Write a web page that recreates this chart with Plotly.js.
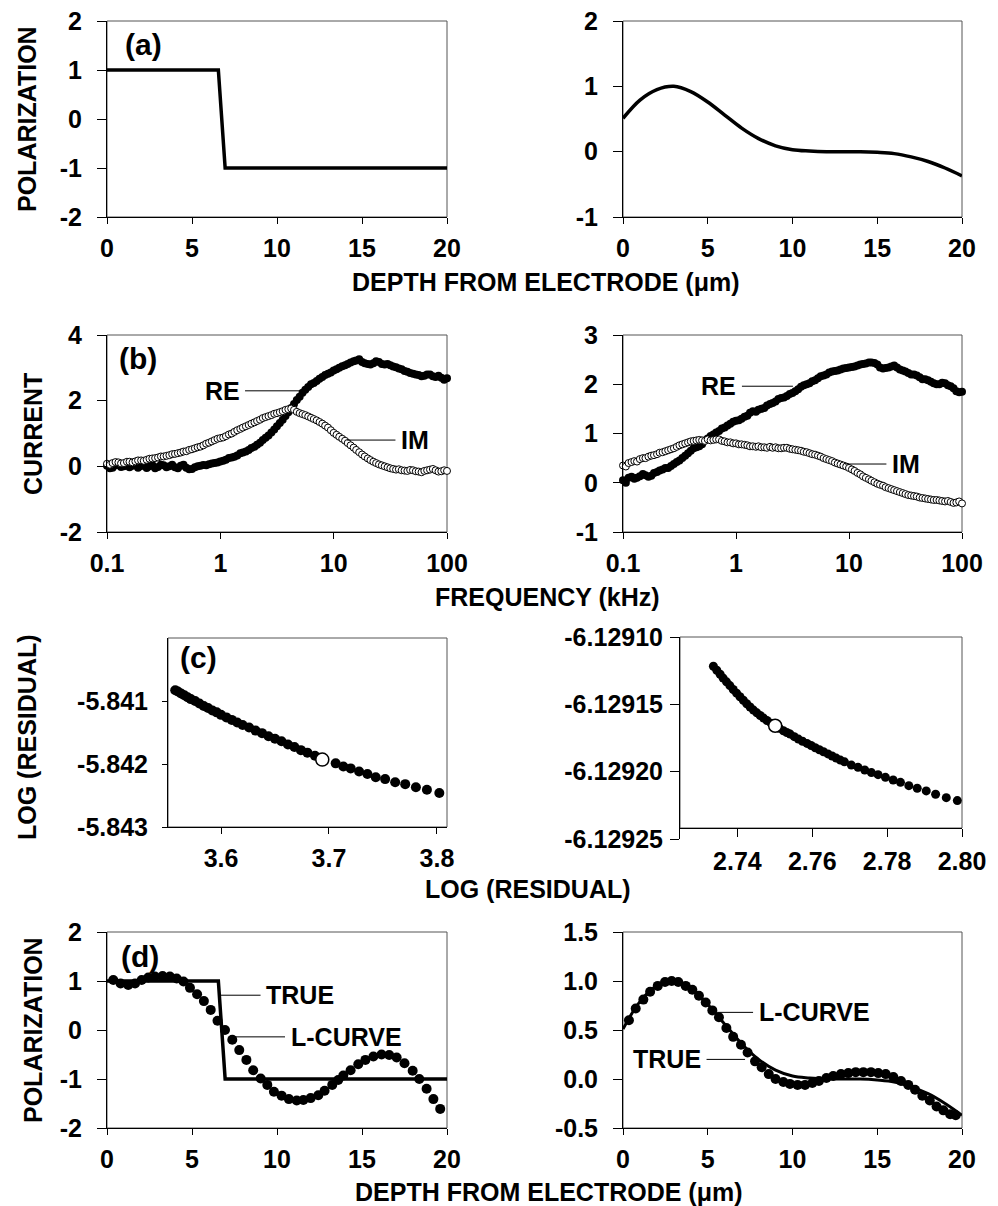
<!DOCTYPE html>
<html>
<head>
<meta charset="utf-8">
<script src="https://cdn.plot.ly/plotly-3.0.1.min.js"></script>
<style>html,body{margin:0;padding:0;background:#fff;}#chart{width:998px;height:1206px;}</style>
</head>
<body>
<div id="chart"></div>
<script>
// ---------- DATA ----------
// (a) / (d): true polarization profiles
const STEP_X = [0, 6.55, 6.95, 20];
const STEP_Y = [1, 1, -1, -1];
const SMOOTH_X = [0,1,2,3,4,5,6,7,8,9,10,11,12,13,14,15,16,17,18,19,20];
const SMOOTH_Y = [0.51,0.79,0.95,1.0,0.92,0.76,0.56,0.36,0.20,0.09,0.03,0.01,0.0,0.0,0.0,-0.01,-0.03,-0.08,-0.15,-0.25,-0.37];

// (b): currents vs frequency (kHz)
const FREQ = [0.1,0.106,0.112,0.119,0.126,0.133,0.141,0.15,0.158,0.168,0.178,0.188,0.2,0.211,0.224,0.237,0.251,0.266,0.282,0.299,0.316,0.335,0.355,0.376,0.398,0.422,0.447,0.473,0.501,0.531,0.562,0.596,0.631,0.668,0.708,0.75,0.794,0.841,0.891,0.944,
  1,1.06,1.12,1.19,1.26,1.33,1.41,1.5,1.58,1.68,1.78,1.88,2,2.11,2.24,2.37,2.51,2.66,2.82,2.99,3.16,3.35,3.55,3.76,3.98,4.22,4.47,4.73,5.01,5.31,5.62,5.96,6.31,6.68,7.08,7.5,7.94,8.41,8.91,9.44,
  10,10.6,11.2,11.9,12.6,13.3,14.1,15,15.8,16.8,17.8,18.8,20,21.1,22.4,23.7,25.1,26.6,28.2,29.9,31.6,33.5,35.5,37.6,39.8,42.2,44.7,47.3,50.1,53.1,56.2,59.6,63.1,66.8,70.8,75,79.4,84.1,89.1,94.4,100];
const RE_LEFT = [0.02,-0.06,-0.04,0.03,0.05,-0.02,0.0,0.07,-0.03,0.02,0.06,-0.04,0.01,0.04,-0.05,0.0,0.04,-0.06,-0.02,0.05,0.03,
  -0.03,0.0,0.05,-0.03,-0.06,0.02,0.05,-0.04,-0.09,-0.08,-0.03,0.0,0.02,0.04,0.03,0.06,0.09,0.1,0.12,0.15,
  0.17,0.2,0.25,0.27,0.29,0.33,0.4,0.42,0.45,0.5,0.56,0.6,0.66,0.72,0.8,0.87,0.94,1.03,1.12,1.22,
  1.32,1.42,1.53,1.65,1.78,1.9,2.02,2.12,2.24,2.33,2.42,2.5,2.54,2.6,2.67,2.72,2.78,2.82,2.86,2.92,
  2.96,3.0,3.05,3.08,3.12,3.16,3.2,3.22,3.26,3.18,3.14,3.12,3.1,3.14,3.2,3.18,3.12,3.1,3.12,3.08,
  3.04,3.02,2.98,2.96,2.9,2.88,2.84,2.82,2.8,2.78,2.74,2.76,2.8,2.8,2.74,2.72,2.76,2.7,2.64,2.68];
const IM_LEFT = [0.08,0.05,0.1,0.13,0.12,0.09,0.1,0.14,0.14,0.12,0.15,0.18,0.18,0.17,0.2,0.23,0.24,0.25,0.27,0.3,0.3,
  0.32,0.34,0.37,0.38,0.4,0.42,0.45,0.46,0.5,0.52,0.55,0.58,0.6,0.64,0.69,0.72,0.76,0.8,0.84,0.86,
  0.88,0.92,0.97,1.0,1.05,1.1,1.14,1.18,1.22,1.26,1.3,1.34,1.38,1.42,1.47,1.5,1.53,1.56,1.6,1.62,
  1.65,1.68,1.72,1.74,1.76,1.72,1.66,1.62,1.59,1.56,1.52,1.48,1.44,1.4,1.35,1.3,1.24,1.18,1.1,1.02,
  0.96,0.9,0.84,0.78,0.71,0.64,0.57,0.5,0.43,0.36,0.3,0.24,0.19,0.14,0.1,0.06,0.03,0.0,-0.03,-0.06,
  -0.08,-0.1,-0.09,-0.12,-0.13,-0.14,-0.11,-0.12,-0.15,-0.16,-0.18,-0.14,-0.12,-0.1,-0.08,-0.12,-0.16,-0.15,-0.12,-0.14];
const RE_RIGHT = [0.05,0.0,0.1,0.12,0.08,0.1,0.13,0.18,0.15,0.12,0.14,0.2,0.22,0.25,0.27,0.3,0.3,0.34,0.38,0.42,0.45,
  0.5,0.55,0.6,0.65,0.7,0.72,0.74,0.78,0.86,0.9,0.95,0.98,1.02,1.05,1.1,1.12,1.16,1.2,1.24,1.26,
  1.27,1.3,1.34,1.36,1.42,1.45,1.44,1.48,1.5,1.52,1.57,1.6,1.62,1.65,1.7,1.72,1.73,1.76,1.8,1.82,
  1.86,1.9,1.95,1.98,2.0,2.02,2.06,2.08,2.12,2.16,2.18,2.2,2.24,2.26,2.27,2.28,2.3,2.32,2.33,2.34,
  2.35,2.36,2.38,2.4,2.41,2.42,2.44,2.44,2.43,2.4,2.34,2.32,2.33,2.34,2.36,2.38,2.34,2.3,2.28,2.26,
  2.23,2.2,2.2,2.18,2.14,2.1,2.1,2.08,2.05,2.02,2.0,2.0,2.03,2.02,1.98,1.96,1.92,1.86,1.84,1.85];
const IM_RIGHT = [0.35,0.33,0.4,0.42,0.44,0.43,0.48,0.5,0.5,0.53,0.55,0.56,0.58,0.61,0.62,0.64,0.66,0.68,0.7,0.73,0.76,
  0.78,0.8,0.82,0.84,0.85,0.86,0.87,0.86,0.85,0.88,0.86,0.87,0.88,0.88,0.85,0.84,0.82,0.82,0.8,0.8,
  0.78,0.78,0.77,0.76,0.74,0.74,0.73,0.74,0.72,0.72,0.71,0.73,0.71,0.72,0.7,0.7,0.71,0.71,0.69,0.68,
  0.67,0.66,0.65,0.63,0.62,0.6,0.58,0.57,0.55,0.53,0.5,0.48,0.46,0.44,0.41,0.39,0.37,0.35,0.33,0.3,
  0.27,0.24,0.2,0.17,0.13,0.1,0.07,0.04,0.01,-0.02,-0.04,-0.06,-0.09,-0.11,-0.13,-0.15,-0.17,-0.19,-0.21,-0.23,
  -0.25,-0.26,-0.27,-0.28,-0.3,-0.31,-0.32,-0.33,-0.34,-0.35,-0.35,-0.36,-0.37,-0.38,-0.37,-0.39,-0.41,-0.4,-0.38,-0.42];

// (c): L-curves
const LC_LEFT_X = [3.5576,3.560,3.563,3.566,3.569,3.572,3.576,3.580,3.584,3.588,3.592,3.596,3.600,3.605,3.610,3.615,3.620,3.626,3.632,3.638,3.644,3.650,3.656,3.662,3.668,3.674,3.680,3.687,3.7062,3.7133,3.7201,3.7279,3.7356,3.7433,3.752,3.7613,3.7706,3.7805,3.7907,3.8022];
const LC_LEFT_Y = [-5.84083,-5.84085,-5.84088,-5.84091,-5.84094,-5.84097,-5.84100,-5.84104,-5.84108,-5.84111,-5.84115,-5.84118,-5.84122,-5.84126,-5.84130,-5.84134,-5.84138,-5.84142,-5.84147,-5.84151,-5.84156,-5.84160,-5.84164,-5.84169,-5.84173,-5.84178,-5.84182,-5.84187,-5.84199,-5.84204,-5.84207,-5.84212,-5.84216,-5.84221,-5.84224,-5.84229,-5.84232,-5.84237,-5.84241,-5.84246];
const LC_LEFT_PICK_X = [3.6938];
const LC_LEFT_PICK_Y = [-5.84193];
const LC_RIGHT_X = [2.7336,2.7345,2.7354,2.7362,2.7371,2.7380,2.7389,2.7398,2.7407,2.7416,2.7425,2.7434,2.7443,2.7452,2.7461,2.7470,2.7479,2.7490,2.7512,2.7523,2.7532,2.7541,2.7552,2.7563,2.7574,2.7586,2.7597,2.7608,2.7619,2.7630,2.7642,2.7653,2.7664,2.7675,2.7686,2.77045,2.77223,2.77402,2.77580,2.77759,2.77955,2.78161,2.78357,2.78580,2.78804,2.79045,2.79295,2.79580,2.79875];
const LC_RIGHT_Y = [-6.1291217,-6.1291247,-6.1291277,-6.1291305,-6.1291333,-6.1291361,-6.1291390,-6.1291417,-6.1291444,-6.1291470,-6.1291496,-6.1291520,-6.1291543,-6.1291563,-6.1291583,-6.1291602,-6.1291620,-6.1291640,-6.1291678,-6.1291696,-6.1291709,-6.1291721,-6.1291740,-6.1291758,-6.1291774,-6.1291790,-6.1291806,-6.1291822,-6.1291837,-6.1291852,-6.1291868,-6.1291884,-6.1291899,-6.1291914,-6.1291927,-6.1291951,-6.1291968,-6.1291988,-6.1292007,-6.1292022,-6.1292042,-6.1292062,-6.1292079,-6.1292104,-6.1292123,-6.1292143,-6.1292168,-6.1292193,-6.1292215];
const LC_RIGHT_PICK_X = [2.7501];
const LC_RIGHT_PICK_Y = [-6.1291659];

// (d): L-curve reconstructions
const REC_LEFT_X = [0.37,0.8,1.25,1.65,2.04,2.43,2.82,3.27,3.7,4.1,4.5,4.88,5.3,5.7,6.1,6.5,6.94,7.37,7.78,8.2,8.6,9.04,9.43,9.82,10.27,10.7,11.16,11.55,11.98,12.43,12.8,13.25,13.6,13.9,14.33,14.78,15.2,15.67,16.15,16.6,17.04,17.5,17.98,18.37,18.8,19.2,19.6];
const REC_LEFT_Y = [1.02,0.95,0.92,0.95,1.02,1.07,1.09,1.10,1.09,1.05,0.99,0.86,0.73,0.59,0.41,0.19,0.0,-0.2,-0.41,-0.61,-0.82,-0.99,-1.12,-1.26,-1.34,-1.41,-1.44,-1.43,-1.39,-1.33,-1.24,-1.12,-1.02,-0.93,-0.82,-0.70,-0.61,-0.54,-0.50,-0.51,-0.56,-0.68,-0.83,-1.0,-1.2,-1.41,-1.61];
const REC_RIGHT_X = [0.35,0.75,1.2,1.6,2.05,2.48,2.87,3.26,3.7,4.09,4.48,4.88,5.27,5.66,6.1,6.5,6.96,7.35,7.79,8.18,8.6,9.0,9.46,9.85,10.3,10.74,11.17,11.56,12.0,12.4,12.86,13.29,13.73,14.18,14.63,15.06,15.5,15.95,16.4,16.83,17.23,17.66,18.1,18.5,18.9,19.3,19.63];
const REC_RIGHT_Y = [0.60,0.72,0.81,0.89,0.95,0.99,1.0,0.99,0.95,0.91,0.85,0.78,0.70,0.63,0.52,0.43,0.35,0.27,0.18,0.12,0.05,0.0,-0.03,-0.05,-0.06,-0.06,-0.04,-0.02,0.01,0.03,0.05,0.06,0.07,0.07,0.07,0.06,0.05,0.02,-0.02,-0.06,-0.11,-0.17,-0.22,-0.28,-0.32,-0.36,-0.37];

// tick values / labels
const DEPTH_TICKS = [0,5,10,15,20];
const POL_A_TICKS = [-2,-1,0,1,2];
const POL_A_LABELS = ['-2','-1','0','1','2'];
const POL_A2_TICKS = [-1,0,1,2];
const POL_A2_LABELS = ['-1','0','1','2'];
const FREQ_TICKS = [0.1,1,10,100];
const FREQ_LABELS = ['0.1','1','10','100'];
const CUR_L_TICKS = [-2,0,2,4];
const CUR_L_LABELS = ['-2','0','2','4'];
const CUR_R_TICKS = [-1,0,1,2,3];
const CUR_R_LABELS = ['-1','0','1','2','3'];
const RES_L_XTICKS = [3.6,3.7,3.8];
const RES_L_XLABELS = ['3.6','3.7','3.8'];
const RES_L_YTICKS = [-5.843,-5.842,-5.841];
const RES_L_YLABELS = ['-5.843','-5.842','-5.841'];
const RES_R_XTICKS = [2.74,2.76,2.78,2.80];
const RES_R_XLABELS = ['2.74','2.76','2.78','2.80'];
const RES_R_YTICKS = [-6.12925,-6.12920,-6.12915,-6.12910];
const RES_R_YLABELS = ['-6.12925','-6.12920','-6.12915','-6.12910'];
const POL_D2_TICKS = [-0.5,0,0.5,1,1.5];
const POL_D2_LABELS = ['-0.5','0.0','0.5','1.0','1.5'];

// ---------- LAYOUT HELPERS ----------
const W = 998, H = 1206;
const px = v => v / W;
const py = v => 1 - v / H;
const FONT = {family: 'Liberation Sans, Arial, sans-serif', size: 25, color: '#000', weight: 'bold'};

function xax(x0, x1, anchor, extra) {
  return Object.assign({
    domain: [px(x0), px(x1)], anchor: anchor,
    showgrid: false, zeroline: false, showline: true, linecolor: '#000', linewidth: 1,
    ticks: 'outside', ticklen: 6, tickwidth: 1, tickcolor: '#000',
    tickfont: FONT, ticklabelstandoff: 3, fixedrange: true
  }, extra);
}
function yax(top, bottom, anchor, extra) {
  return Object.assign({
    domain: [py(bottom), py(top)], anchor: anchor,
    showgrid: false, zeroline: false, showline: true, linecolor: '#000', linewidth: 1,
    ticks: 'outside', ticklen: 9, tickwidth: 1, tickcolor: '#000',
    tickfont: FONT, ticklabelstandoff: 10, fixedrange: true
  }, extra);
}

const LX0 = 107, LX1 = 447, RX0 = 623, RX1 = 962;

const layout = {
  width: W, height: H,
  margin: {l: 0, r: 0, t: 0, b: 0},
  paper_bgcolor: '#fff', plot_bgcolor: 'rgba(0,0,0,0)',
  showlegend: false,
  font: FONT,
  // (a)
  xaxis:  xax(LX0, LX1, 'y',  {range: [0, 20], tickvals: DEPTH_TICKS}),
  yaxis:  yax(21, 217, 'x',   {range: [-2, 2], tickvals: POL_A_TICKS, ticktext: POL_A_LABELS}),
  xaxis2: xax(RX0, RX1, 'y2', {range: [0, 20], tickvals: DEPTH_TICKS}),
  yaxis2: yax(21, 217, 'x2',  {range: [-1, 2], tickvals: POL_A2_TICKS, ticktext: POL_A2_LABELS}),
  // (b)
  xaxis3: xax(LX0, LX1, 'y3', {type: 'log', range: [-1, 2], tickvals: FREQ_TICKS, ticktext: FREQ_LABELS}),
  yaxis3: yax(335, 532, 'x3', {range: [-2, 4], tickvals: CUR_L_TICKS, ticktext: CUR_L_LABELS}),
  xaxis4: xax(RX0, RX1, 'y4', {type: 'log', range: [-1, 2], tickvals: FREQ_TICKS, ticktext: FREQ_LABELS}),
  yaxis4: yax(335, 532, 'x4', {range: [-1, 3], tickvals: CUR_R_TICKS, ticktext: CUR_R_LABELS}),
  // (c)
  xaxis5: xax(168, LX1, 'y5', {range: [3.5509, 3.8093], tickvals: RES_L_XTICKS, ticktext: RES_L_XLABELS}),
  yaxis5: yax(638, 827, 'x5', {range: [-5.843, -5.840], tickvals: RES_L_YTICKS, ticktext: RES_L_YLABELS, ticklen: 5, ticklabelstandoff: 9}),
  xaxis6: xax(680, RX1, 'free', {position: py(828), range: [2.72468, 2.80], tickvals: RES_R_XTICKS, ticktext: RES_R_XLABELS, ticklen: 8}),
  yaxis6: yax(637, 839, 'x6', {range: [-6.12925, -6.12910], tickvals: RES_R_YTICKS, ticktext: RES_R_YLABELS, ticklabelstandoff: 2}),
  // (d)
  xaxis7: xax(LX0, LX1, 'y7', {range: [0, 20], tickvals: DEPTH_TICKS}),
  yaxis7: yax(932, 1128, 'x7', {range: [-2, 2], tickvals: POL_A_TICKS, ticktext: POL_A_LABELS}),
  xaxis8: xax(RX0, RX1, 'y8', {range: [0, 20], tickvals: DEPTH_TICKS}),
  yaxis8: yax(932, 1128, 'x8', {range: [-0.5, 1.5], tickvals: POL_D2_TICKS, ticktext: POL_D2_LABELS}),
  shapes: [],
  annotations: []
};

// frames (top/right borders)
const FRAME = {color: '#555', width: 1};
['', '2', '3', '4', '5', '7', '8'].forEach(s => {
  layout.shapes.push({type: 'rect', xref: 'x' + s + ' domain', yref: 'y' + s + ' domain',
    x0: 0, x1: 1, y0: 0, y1: 1, line: FRAME, layer: 'below'});
});
layout.shapes.push({type: 'rect', xref: 'x6 domain', yref: 'paper',
  x0: 0, x1: 1, y0: py(828), y1: py(637), line: FRAME, layer: 'below'});

// text helpers
function ptext(text, x, y, opts) {
  layout.annotations.push(Object.assign({text: text, xref: 'paper', yref: 'paper',
    x: px(x), y: py(y), xanchor: 'center', yanchor: 'middle', showarrow: false, font: FONT}, opts || {}));
}
// axis titles
ptext('POLARIZATION', 27, 119, {textangle: -90});
ptext('CURRENT', 33, 434, {textangle: -90});
ptext('LOG (RESIDUAL)', 27, 737, {textangle: -90});
ptext('POLARIZATION', 33, 1030, {textangle: -90});
ptext('DEPTH FROM ELECTRODE (μm)', 546, 282);
ptext('FREQUENCY (kHz)', 547, 597);
ptext('LOG (RESIDUAL)', 528, 889);
ptext('DEPTH FROM ELECTRODE (μm)', 549, 1192);
// panel letters
const BIG = Object.assign({}, FONT, {size: 30});
ptext('(a)', 143, 44, {font: BIG});
ptext('(b)', 138, 358, {font: BIG});
ptext('(c)', 198, 657, {font: BIG});
ptext('(d)', 140, 956, {font: BIG});

// leader-line labels
function lead(text, xr, yr, x, y, ax, ay) {
  layout.annotations.push({text: text, xref: xr, yref: yr, x: x, y: y, ax: ax, ay: ay,
    showarrow: true, arrowhead: 0, arrowwidth: 1, arrowcolor: '#000', standoff: 0, startstandoff: 4,
    font: FONT});
}
lead('RE', 'x3', 'y3', Math.log10(5.05), 2.3, -78, 0);
lead('IM', 'x3', 'y3', Math.log10(13.1), 0.8, 68, 0);
lead('RE', 'x4', 'y4', Math.log10(3.19), 1.96, -74, 0);
lead('IM', 'x4', 'y4', Math.log10(9.2), 0.38, 61, 0);
lead('TRUE', 'x7', 'y7', 6.65, 0.71, 80, 0);
lead('L-CURVE', 'x7', 'y7', 7.53, -0.14, 111, 0);
lead('L-CURVE', 'x8', 'y8', 5.55, 0.68, 97, 0);
lead('TRUE', 'x8', 'y8', 7.2, 0.2, -78, 0);

// ---------- TRACES ----------
const LINE = {color: '#000', width: 3.5};
const DOT = {color: '#000', size: 10};
const OPEN_SMALL = {color: '#fff', size: 7, line: {color: '#000', width: 1}};
const traces = [
  {x: STEP_X, y: STEP_Y, xaxis: 'x', yaxis: 'y', mode: 'lines', line: LINE},
  {x: SMOOTH_X, y: SMOOTH_Y, xaxis: 'x2', yaxis: 'y2', mode: 'lines', line: Object.assign({shape: 'spline'}, LINE)},
  {x: FREQ, y: RE_LEFT, xaxis: 'x3', yaxis: 'y3', mode: 'markers', marker: {color: '#000', size: 8}},
  {x: FREQ, y: IM_LEFT, xaxis: 'x3', yaxis: 'y3', mode: 'markers', marker: OPEN_SMALL},
  {x: FREQ, y: RE_RIGHT, xaxis: 'x4', yaxis: 'y4', mode: 'markers', marker: {color: '#000', size: 8}},
  {x: FREQ, y: IM_RIGHT, xaxis: 'x4', yaxis: 'y4', mode: 'markers', marker: OPEN_SMALL},
  {x: LC_LEFT_X, y: LC_LEFT_Y, xaxis: 'x5', yaxis: 'y5', mode: 'markers', marker: DOT},
  {x: LC_LEFT_PICK_X, y: LC_LEFT_PICK_Y, xaxis: 'x5', yaxis: 'y5', mode: 'markers', marker: {color: '#fff', size: 13, line: {color: '#000', width: 1.5}}},
  {x: LC_RIGHT_X, y: LC_RIGHT_Y, xaxis: 'x6', yaxis: 'y6', mode: 'markers', marker: {color: '#000', size: 9}},
  {x: LC_RIGHT_PICK_X, y: LC_RIGHT_PICK_Y, xaxis: 'x6', yaxis: 'y6', mode: 'markers', marker: {color: '#fff', size: 13, line: {color: '#000', width: 1.5}}},
  {x: STEP_X, y: STEP_Y, xaxis: 'x7', yaxis: 'y7', mode: 'lines', line: LINE},
  {x: REC_LEFT_X, y: REC_LEFT_Y, xaxis: 'x7', yaxis: 'y7', mode: 'markers', marker: DOT},
  {x: SMOOTH_X, y: SMOOTH_Y, xaxis: 'x8', yaxis: 'y8', mode: 'lines', line: Object.assign({shape: 'spline'}, LINE, {width: 3})},
  {x: REC_RIGHT_X, y: REC_RIGHT_Y, xaxis: 'x8', yaxis: 'y8', mode: 'markers', marker: DOT}
];
traces.forEach(t => { t.type = 'scatter'; t.hoverinfo = 'skip'; t.cliponaxis = false; });

Plotly.newPlot('chart', traces, layout, {staticPlot: true, displayModeBar: false});
</script>
</body>
</html>
